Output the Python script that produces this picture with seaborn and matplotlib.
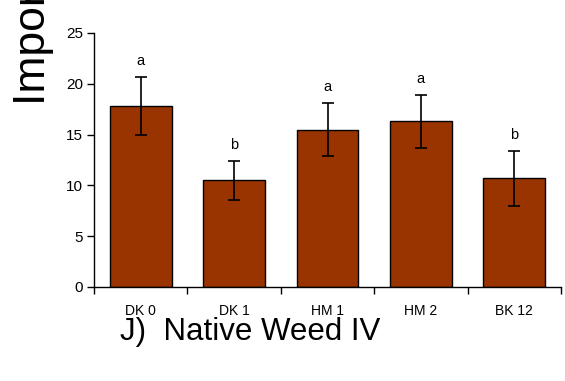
import matplotlib
matplotlib.use("Agg")
import matplotlib.pyplot as plt
from matplotlib.ticker import FixedLocator
import numpy as np
import pandas as pd
import seaborn as sns

# Treatment means, standard errors and significance groups
treatments = ["DK 0", "DK 1", "HM 1", "HM 2", "BK 12"]
importance = [17.8, 10.5, 15.5, 16.3, 10.7]
std_err = [2.85, 1.9, 2.6, 2.6, 2.7]
groups = ["a", "b", "a", "a", "b"]
yticks = [0, 5, 10, 15, 20, 25]

sns.set_theme(style="ticks")
plt.rcParams["font.family"] = ["Liberation Sans", "DejaVu Sans"]

df = pd.DataFrame({"treatment": treatments, "importance": importance})

fig = plt.figure(figsize=(5.65, 3.81), dpi=100)
ax = fig.add_axes([94 / 565, 1 - 287 / 381, (561 - 94) / 565, (287 - 33) / 381])

sns.barplot(data=df, x="treatment", y="importance", order=treatments,
            color="#993300", saturation=1, width=0.66, errorbar=None,
            edgecolor="black", linewidth=1.0, ax=ax)

pos = np.arange(len(treatments))
ax.errorbar(pos, importance, yerr=std_err, fmt="none", ecolor="black",
            elinewidth=1.2, capsize=4.5, capthick=1.2, zorder=5)

for x, m, e, g in zip(pos, importance, std_err, groups):
    ax.annotate(g, xy=(x, m + e), xytext=(0, 8.5), textcoords="offset points",
                ha="center", va="baseline", fontsize=10.5, color="black")

ax.set_xlim(-0.5, len(treatments) - 0.5)
ax.set_ylim(0, 25)
ax.set_yticks(yticks)
ax.set_xlabel("")
ax.set_ylabel("")
sns.despine(ax=ax)
for s in ("left", "bottom"):
    ax.spines[s].set_color("black")
    ax.spines[s].set_linewidth(1.0)

ax.xaxis.set_minor_locator(FixedLocator(np.arange(-0.5, len(treatments), 1.0)))
ax.tick_params(axis="x", which="major", length=0, pad=12, labelsize=10, colors="black")
ax.tick_params(axis="x", which="minor", length=5, width=1.0, color="black")
ax.tick_params(axis="y", which="major", length=5, width=1.0, labelsize=11,
               colors="black", pad=3)

fig.text(13 / 565, 1 - 105 / 381, "Importance Value", rotation=90,
         ha="left", va="bottom", fontsize=32, color="black")
fig.text(120 / 565, 1 - 332 / 381, "J)  Native Weed IV", ha="left",
         va="center", fontsize=22.5, color="black")

fig.savefig("out.png", dpi=100)
